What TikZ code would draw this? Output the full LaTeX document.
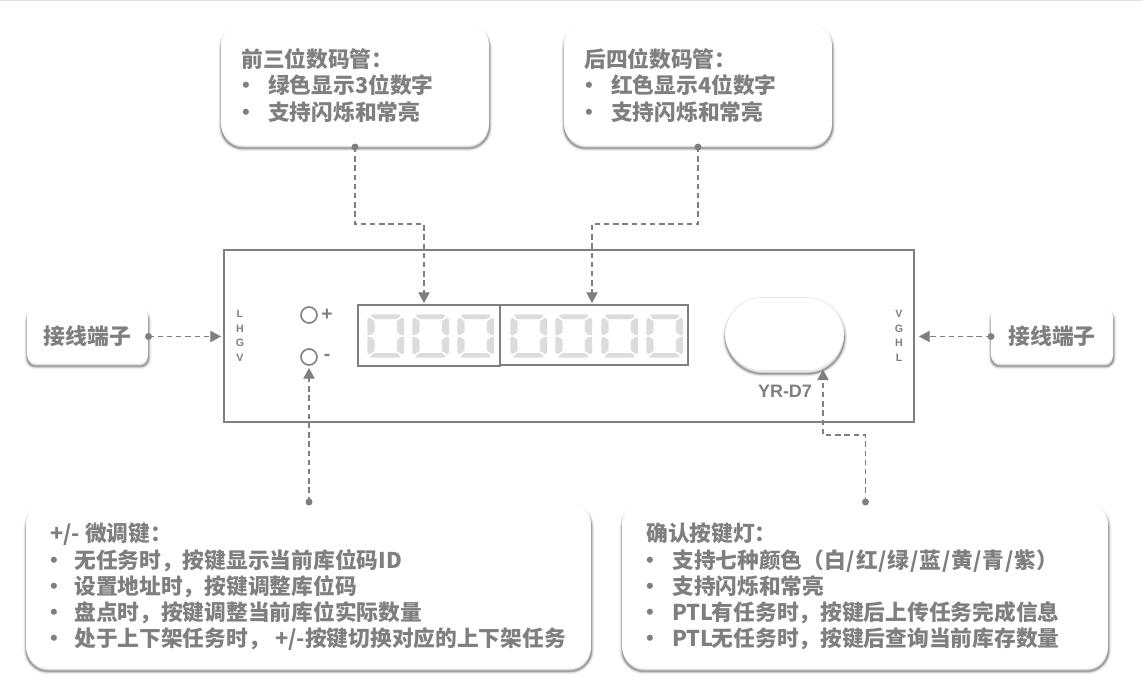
\documentclass[tikz,border=0pt]{standalone}
\usepackage{fontspec}
\setmainfont{Noto Sans CJK SC}
\newfontfamily\latinf{Liberation Sans}
\usetikzlibrary{arrows.meta}
\definecolor{tgray}{HTML}{7F7F7F}
\definecolor{seggray}{HTML}{DCDCDC}
\def\px{0.75pt}
\newcommand{\itm}[3]{\makebox[#1][l]{\hspace{#2}•}#3}
\newcommand{\slh}{\hspace{.6pt}/\hspace{.6pt}}
\tikzset{
  x=0.75pt,y=-0.75pt,
  softshadow/.style={
    preaction={draw=black,opacity=.05,line width=4.4pt,transform canvas={yshift=-2.4pt,xshift=.3pt}},
    preaction={draw=black,opacity=.09,line width=3pt,transform canvas={yshift=-2.4pt,xshift=.3pt}},
    preaction={draw=black,opacity=.14,line width=1.8pt,transform canvas={yshift=-2.4pt,xshift=.3pt}},
    preaction={draw=black,opacity=.2,line width=.8pt,transform canvas={yshift=-2.4pt,xshift=.3pt}},
    fill=white},
  softbox/.style={softshadow,rounded corners=16pt,inner sep=0pt},
  termbox/.style={softshadow,rounded corners=6pt,inner sep=0pt,minimum width=121*\px,minimum height=54*\px,
    text=tgray,font=\fontsize{16.4pt}{20pt}\selectfont\bfseries},
  notetext/.style={inner sep=0pt,anchor=north west,align=left,text=tgray,
    font=\fontsize{16.3pt}{19.7pt}\selectfont\bfseries},
  frameb/.style={draw=tgray,line width=1.5pt,inner sep=0pt},
  keyc/.style={circle,draw=tgray,line width=1.2pt,minimum size=16*\px,inner sep=0pt},
  pinl/.style={text=tgray,font=\latinf\fontsize{8pt}{9pt}\selectfont\bfseries,inner sep=0pt},
  signl/.style={text=tgray,font=\latinf\fontsize{14.5pt}{15pt}\selectfont\bfseries,inner sep=0pt},
  dotn/.style={circle,fill=tgray,minimum size=7*\px,inner sep=0pt},
  conn/.style={draw=tgray,line width=.85pt,dash pattern=on 4pt off 2.9pt,
    -{Triangle[width=8.5pt,length=8pt]}},
  seg/.style={fill=seggray,draw=none,rounded corners=.5pt},
}
\newcommand{\sevenseg}[1]{%
  \begin{scope}[shift={(#1,314)}]
    \path[seg] (6,.3) -- (31.5,.3) -- (34,1.6) -- (30,5) -- (7.5,5) -- (3.5,1.6) -- cycle;
    \path[seg] (3.5,43.7) -- (6,43.7) -- (31.5,43.7) -- (34,42.4) -- (30,39) -- (7.5,39) -- (3.5,42.4) -- cycle;
    \path[seg] (.3,5.5) -- (2.5,3.5) -- (7.6,7.5) -- (7.6,18) -- (3,21.5) -- (.3,20.5) -- cycle;
    \path[seg] (37.2,5.5) -- (35,3.5) -- (29.9,7.5) -- (29.9,18) -- (34.5,21.5) -- (37.2,20.5) -- cycle;
    \path[seg] (.3,38.5) -- (2.5,40.5) -- (7.6,36.5) -- (7.6,26) -- (3,22.5) -- (.3,23.5) -- cycle;
    \path[seg] (37.2,38.5) -- (35,40.5) -- (29.9,36.5) -- (29.9,26) -- (34.5,22.5) -- (37.2,23.5) -- cycle;
  \end{scope}}
\begin{document}
\begin{tikzpicture}
\useasboundingbox (0,0) rectangle (1143,685);
\fill[white] (0,0) rectangle (1143,685);
\draw[draw=black!12,line width=.75pt] (0,.5) -- (1143,.5);

% device
\node[draw=tgray,line width=1.5pt,minimum width=690*\px,minimum height=172*\px,inner sep=0pt] (device) at (569,336) {};
\node[frameb,minimum width=142*\px,minimum height=61*\px] (frameA) at (429,335.5) {};
\node[frameb,minimum width=188*\px,minimum height=60*\px] (frameB) at (594,335) {};
\sevenseg{367}\sevenseg{412}\sevenseg{457}
\sevenseg{510}\sevenseg{555}\sevenseg{601}\sevenseg{646}
\node[keyc] (plus) at (309,315) {};
\node[keyc] (minus) at (309,357) {};
\node[signl] (pluslabel) at (327,314.5) {+};
\node[signl] (minuslabel) at (327,357.5) {-};
\node[softshadow,draw=black!10,line width=.5pt,rounded corners=28pt,minimum width=119*\px,minimum height=73*\px,inner sep=0pt] (button) at (784.5,334) {};
\node[text=tgray,font=\latinf\fontsize{13.5pt}{15pt}\selectfont\bfseries,inner sep=0pt] (model) at (785,391) {YR-D7};
\node[pinl] (l1) at (240,314) {L};
\node[pinl] (l2) at (240,328.5) {H};
\node[pinl] (l3) at (240,343) {G};
\node[pinl] (l4) at (240,357.5) {V};
\node[pinl] (r1) at (899,313.5) {V};
\node[pinl] (r2) at (899,328.5) {G};
\node[pinl] (r3) at (899,343) {H};
\node[pinl] (r4) at (899,358) {L};

% callouts
\node[softbox,minimum width=268*\px,minimum height=121*\px] (boxA) at (355,84.5) {};
\node[softbox,minimum width=268*\px,minimum height=121*\px] (boxB) at (698,84.5) {};
\node[softbox,minimum width=565*\px,minimum height=165*\px] (boxC) at (308.5,585.5) {};
\node[softbox,minimum width=486*\px,minimum height=165*\px] (boxD) at (865,585.5) {};
\node[termbox] (termL) at (87.5,336) {接线端子};
\node[termbox,minimum width=122*\px] (termR) at (1052,336) {接线端子};

\node[notetext] (textA) at (241,48.3) {前三位数码管：\\\itm{20.25pt}{-4.5pt}{绿色显示3位数字}\\\itm{20.25pt}{-4.5pt}{支持闪烁和常亮}};
\node[notetext] (textB) at (584,48.3) {后四位数码管：\\\itm{20.25pt}{-4.5pt}{红色显示4位数字}\\\itm{20.25pt}{-4.5pt}{支持闪烁和常亮}};
\node[notetext] (textC) at (50,522.8) {+/- 微调键：\\\itm{18pt}{-5pt}{无任务时，按键显示当前库位码ID}\\\itm{18pt}{-5pt}{设置地址时，按键调整库位码}\\\itm{18pt}{-5pt}{盘点时，按键调整当前库位实际数量}\\\itm{18pt}{-5pt}{处于上下架任务时，\hspace{4pt}+/-按键切换对应的上下架任务}};
\node[notetext] (textD) at (646,522.8) {确认按键灯：\\\itm{19.5pt}{-5pt}{支持七种颜色（白\slh 红\slh 绿\slh 蓝\slh 黄\slh 青\slh 紫）}\\\itm{19.5pt}{-5pt}{支持闪烁和常亮}\\\itm{19.5pt}{-5pt}{PTL\hspace{-1.5pt}有任务时，按键后上传任务完成信息}\\\itm{19.5pt}{-5pt}{PTL\hspace{-1.5pt}无任务时，按键后查询当前库存数量}};

% connector ends
\node[dotn] (dA) at (355,147) {};
\node[dotn] (dB) at (698,147) {};
\node[dotn] (dL) at (148.5,336.5) {};
\node[dotn] (dR) at (991,336.5) {};
\node[dotn] (dC) at (309,502) {};
\node[dotn] (dD) at (865.5,502) {};
\coordinate (tA) at (424,303);
\coordinate (tB) at (592,303);
\coordinate (tL) at (221,336.5);
\coordinate (tR) at (919,336.5);
\coordinate (tC) at (309,368);
\coordinate (tD) at (823,369.5);

\draw[conn] (dA.center) -- (dA.center |- 0,224) -- (tA |- 0,224) -- (tA);
\draw[conn] (dB.center) -- (dB.center |- 0,224) -- (tB |- 0,224) -- (tB);
\draw[conn] (dL.center) -- (tL);
\draw[conn] (dR.center) -- (tR);
\draw[conn] (dC.center) -- (tC);
\draw[conn] (dD.center) -- (dD.center |- 0,435) -- (tD |- 0,435) -- (tD);
\end{tikzpicture}
\end{document}
